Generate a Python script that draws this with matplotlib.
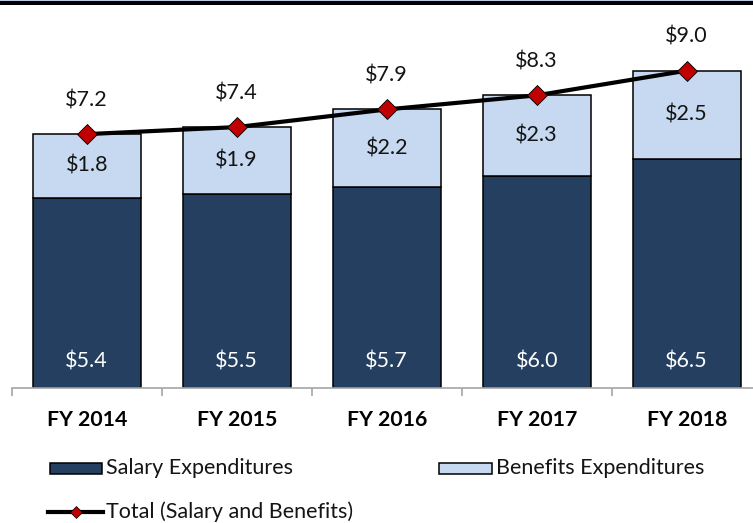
import matplotlib
matplotlib.use("Agg")
import matplotlib.pyplot as plt
from matplotlib.patches import Rectangle
from matplotlib.lines import Line2D

categories = ["FY 2014", "FY 2015", "FY 2016", "FY 2017", "FY 2018"]
salary = [5.4, 5.5, 5.7, 6.0, 6.5]
benefits = [1.8, 1.9, 2.2, 2.3, 2.5]
total = [7.2, 7.4, 7.9, 8.3, 9.0]

W, H = 753, 523
DPI = 100
plt.rcParams['font.family'] = ['Lato', 'DejaVu Sans']

fig = plt.figure(figsize=(W / DPI, H / DPI), dpi=DPI)

def fx(px):
    return px / W

def fy(py):
    return 1 - py / H

# axes geometry (pixels)
ax_left = 11.7
cat_w = 150.0
base_y = 388.0
px_per_unit = 35.26
top_y = 8.0
ymax = (base_y - top_y) / px_per_unit

ax = fig.add_axes([fx(ax_left), fy(base_y), (cat_w * 5) / W, (base_y - top_y) / H])
ax.set_xlim(-0.5, 4.5)
ax.set_ylim(0, ymax)

salary_c = "#243F60"
benefit_c = "#C6D9F1"
txt_c = "#141414"
x = list(range(len(categories)))
bw = 0.72
ax.bar(x, salary, width=bw, color=salary_c, edgecolor="black", linewidth=1.1, zorder=2)
ax.bar(x, benefits, width=bw, bottom=salary, color=benefit_c, edgecolor="black", linewidth=1.1, zorder=2)
ax.plot(x, total, color="black", linewidth=3, marker="D", markersize=10.5,
        markerfacecolor="#C00000", markeredgecolor="black", markeredgewidth=0.6, zorder=3)

fs = 15.5
for i in x:
    ax.annotate(f"${salary[i]:.1f}", (i, 0), xytext=(0, 26 * 72 / DPI), textcoords="offset points",
                ha="center", va="center", color="white", fontsize=fs)
    ax.text(i, salary[i] + benefits[i] / 2, f"${benefits[i]:.1f}", ha="center", va="center",
            color=txt_c, fontsize=fs)
    ax.annotate(f"${total[i]:.1f}", (i, total[i]), xytext=(0, 34 * 72 / DPI), textcoords="offset points",
                ha="center", va="center", color=txt_c, fontsize=fs)

for s in ["top", "right", "left"]:
    ax.spines[s].set_visible(False)
ax.spines["bottom"].set_color("#A6A6A6")
ax.spines["bottom"].set_linewidth(1.2)
ax.set_yticks([])
ax.set_xticks(x)
ax.set_xticklabels(categories, fontsize=15.3, fontweight="bold", color="black")
ax.tick_params(axis="x", which="major", length=0, pad=15.5)
ax.set_xticks([i - 0.5 for i in range(len(categories) + 1)], minor=True)
ax.tick_params(axis="x", which="minor", length=6, width=1.2, color="#A6A6A6", direction="out")

# legend (manual)
fig.patches.append(Rectangle((fx(50), fy(474)), fx(52), 11 / H, transform=fig.transFigure,
                             facecolor=salary_c, edgecolor="black", linewidth=1.1))
fig.text(fx(106), fy(468), "Salary Expenditures", ha="left", va="center", fontsize=fs, color=txt_c)
fig.patches.append(Rectangle((fx(439), fy(474)), fx(53), 11 / H, transform=fig.transFigure,
                             facecolor=benefit_c, edgecolor="black", linewidth=1.1))
fig.text(fx(496), fy(468), "Benefits Expenditures", ha="left", va="center", fontsize=fs, color=txt_c)
fig.lines.append(Line2D([fx(48), fx(103)], [fy(512), fy(512)], transform=fig.transFigure,
                        color="black", linewidth=3))
fig.lines.append(Line2D([fx(75.5)], [fy(512)], transform=fig.transFigure, marker="D", markersize=6,
                        markerfacecolor="#C00000", markeredgecolor="black", markeredgewidth=0.5))
fig.text(fx(106), fy(512), "Total (Salary and Benefits)", ha="left", va="center", fontsize=fs, color=txt_c)

# top decoration
fig.patches.append(Rectangle((0, fy(1.5)), 1, 1.5 / H, transform=fig.transFigure,
                             facecolor="#B9CDE5", edgecolor="none"))
fig.patches.append(Rectangle((0, fy(5.3)), 1, 3.8 / H, transform=fig.transFigure,
                             facecolor="black", edgecolor="none"))

fig.savefig("out.png", dpi=DPI)
